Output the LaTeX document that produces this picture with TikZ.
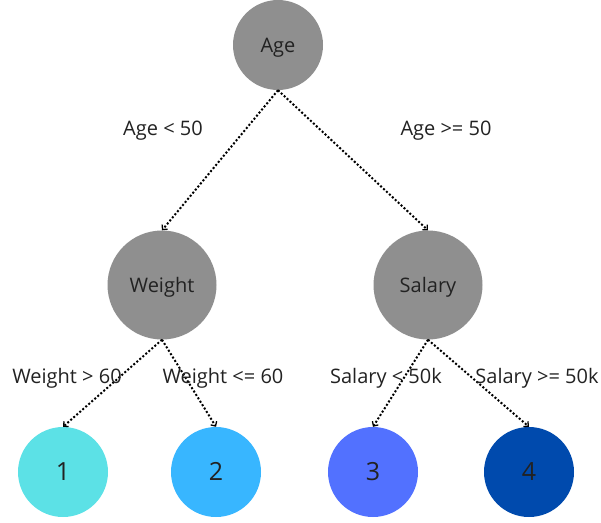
\documentclass[tikz,border=0pt]{standalone}
\usepackage{fontspec}
\setmainfont{Open Sans}
\usetikzlibrary{arrows.meta}
\definecolor{nodegray}{HTML}{8F8F8F}
\definecolor{leafa}{HTML}{5CE1E6}
\definecolor{leafb}{HTML}{38B6FF}
\definecolor{leafc}{HTML}{5271FF}
\definecolor{leafd}{HTML}{004AAD}
\definecolor{txt}{HTML}{222222}
\tikzset{
  inner/.style={circle, fill=nodegray, inner sep=0pt, text=txt, text height=14.3pt, text depth=0pt, font=\fontsize{20}{24}\selectfont},
  leaf/.style={circle, minimum size=90pt, inner sep=0pt, text=txt, text height=17.9pt, text depth=0pt, font=\fontsize{25}{28}\selectfont},
  edge/.style={dotted, line width=2pt, -{Straight Barb[length=3.5pt,width=7pt,line width=1.3pt]}},
  lbl/.style={text=txt, font=\fontsize{20}{24}\selectfont, inner sep=0pt, anchor=base}
}
\begin{document}
\begin{tikzpicture}[x=1pt,y=-1pt]
\useasboundingbox (0,0) rectangle (601,522);
\node[inner, minimum size=90pt] (age) at (278,45) {Age};
\node[inner, minimum size=109pt] (w) at (162,285) {Weight};
\node[inner, minimum size=109pt] (s) at (428,285) {Salary};
\node[leaf, fill=leafa] (l1) at (63,472) {1};
\node[leaf, fill=leafb] (l2) at (216,472) {2};
\node[leaf, fill=leafc] (l3) at (373,472) {3};
\node[leaf, fill=leafd] (l4) at (529,472) {4};
\draw[edge] (age.south) -- (w.north);
\draw[edge] (age.south) -- (s.north);
\draw[edge] (w.south) -- (l1.north);
\draw[edge] (w.south) -- (l2.north);
\draw[edge] (s.south) -- (l3.north);
\draw[edge] (s.south) -- (l4.north);
\node[lbl] (t1) at (163,135) {Age < 50};
\node[lbl] (t2) at (446,135) {Age >= 50};
\node[lbl] (t3) at (67,383) {Weight > 60};
\node[lbl] (t4) at (223,383) {Weight <= 60};
\node[lbl] (t5) at (386,383) {Salary < 50k};
\node[lbl] (t6) at (537,383) {Salary >= 50k};
\end{tikzpicture}
\end{document}
